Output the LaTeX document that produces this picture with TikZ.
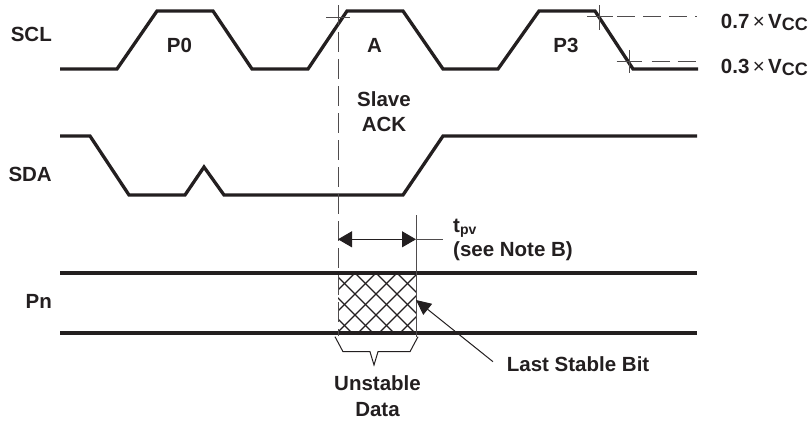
\documentclass[tikz,border=0pt]{standalone}
\usepackage{fontspec}
\setmainfont{Liberation Sans}
\usetikzlibrary{arrows.meta}
\definecolor{ink}{RGB}{35,31,32}
\newcommand{\lowtxt}[2][15]{\raisebox{-2.5pt}{\fontsize{#1}{#1}\selectfont #2}}

\begin{document}
\begin{tikzpicture}[x=1pt, y=-1pt, every node/.style={font=\fontsize{20.5}{25}\selectfont\bfseries, text=ink, inner sep=0pt}]
	\tikzstyle{signal} = [line width=3.3pt, color=ink, line join=miter]
	\tikzstyle{guide} = [line width=1pt, color=ink!80, dash pattern=on 20pt off 7pt]
	\tikzstyle{level} = [line width=1pt, color=ink!80, dash pattern=on 18pt off 8pt]
	\tikzstyle{tick} = [line width=1pt, color=ink!80]
	\tikzstyle{hatch} = [line width=1.2pt, color=ink]
	\useasboundingbox (0,0) rectangle (812,421);
	% SCL, SDA and Pn lines
	\draw[signal] (60,69) -- (117,69) -- (157,11) -- (213,11) -- (252,69) -- (308,69) -- (347,11) -- (403,11) -- (443,69) -- (498,69) -- (539,11) -- (595,11) -- (633,69) -- (698,69);
	\draw[signal] (60,136) -- (90,136) -- (129,195) -- (185,195) -- (204,167) -- (224,195) -- (403,195) -- (443,136) -- (697,136);
	\draw[signal] (60,273) -- (697,273);
	\draw[signal] (60,333) -- (697,333);
	% unstable window
	\begin{scope}
		\clip (338,273) rectangle (416,333);
		\foreach \k in {-4,...,3} \draw[hatch] (355+21*\k,273) -- ++(60,60);
		\foreach \k in {-1,...,6} \draw[hatch] (355+21*\k,273) -- ++(-60,60);
	\end{scope}
	\draw[tick] (416,215) -- (416,337);
	\draw[guide] (338,5) -- (338,336);
	\draw[tick] (326,17) -- (350,17);
	% thresholds
	\draw[tick] (599.3,5) -- (599.3,30);
	\draw[tick] (587,16.7) -- (613,16.7);
	\draw[level] (617,16.7) -- (697,16.7);
	\draw[tick] (629.3,50) -- (629.3,72.7);
	\draw[tick] (616.7,61.7) -- (642,61.7);
	\draw[level] (651.7,61.7) -- (697,61.7);
	% labels
	\node[anchor=base east](scl)at(52,41.7){SCL};
	\node[anchor=base east](sda)at(52,181.7){SDA};
	\node[anchor=base east](pn)at(52,308){Pn};
	\node[anchor=base](p0)at(179.5,52.7){P0};
	\node[anchor=base](a)at(374.5,52.7){A};
	\node[anchor=base](p3)at(566,52.7){P3};
	\node[anchor=base](slave)at(384,106.7){Slave};
	\node[anchor=base](ack)at(384,131.7){ACK};
	\node[anchor=base west](vhi)at(720.7,28.3){0.7\,{\mdseries ×}\,V\lowtxt[18]{CC}};
	\node[anchor=base west](vlo)at(720.7,73.3){0.3\,{\mdseries ×}\,V\lowtxt[18]{CC}};
	\node[anchor=base west](tpv)at(453,232){t\lowtxt[14]{pv}};
	\node[anchor=base west](noteb)at(453,256.7){(see Note B)};
	\node[anchor=base](unst)at(377.5,390){Unstable};
	\node[anchor=base](data)at(377.5,416.7){Data};
	\node[anchor=base west](lsb)at(506.7,371.7){Last Stable Bit};
	% timing arrow and pointer
	\coordinate (tstart) at (338,239.3);
	\coordinate (tend) at (416,239.3);
	\coordinate (tout) at (443,239.3);
	\coordinate (lsbtail) at (493,361.7);
	\coordinate (lastbit) at (416,300);
	\draw[tick, color=ink, {Triangle[length=14pt,width=16pt]}-{Triangle[length=14pt,width=16pt]}] (tstart) -- (tend);
	\draw[tick] (tend) -- (tout);
	\draw[tick, color=ink, -{Triangle[length=15pt,width=14pt]}] (lsbtail) -- (lastbit);
	% brace
	\draw[tick, color=ink] (335,336.7) -- (343,351.7) -- (370,351.7) -- (374,365) -- (378,351.7) -- (410,351.7) -- (418,336.7);
\end{tikzpicture}
\end{document}
